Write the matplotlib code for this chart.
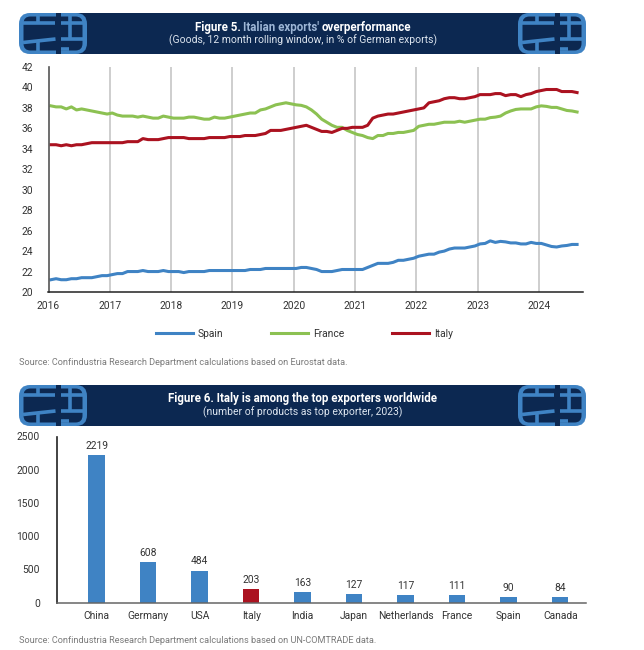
import numpy as np
import matplotlib
matplotlib.use("Agg")
import matplotlib.pyplot as plt
from matplotlib.patches import FancyBboxPatch, Rectangle

W, H = 644, 650
NAVY = '#0c2851'
BLUE = '#3f83c4'
GREEN = '#8cc152'
RED = '#ab1220'
GRID = '#c6c6c6'
LABEL = '#333333'

# Figure 5, monthly values from Jan 2016 to Aug 2024
spain = [21.2, 21.3, 21.2, 21.2, 21.3, 21.3, 21.4, 21.4, 21.4, 21.5, 21.6, 21.6,
         21.7, 21.8, 21.8, 22.0, 22.0, 22.0, 22.1, 22.0, 22.0, 22.0, 22.1, 22.0,
         22.0, 22.0, 21.9, 22.0, 22.0, 22.0, 22.0, 22.1, 22.1, 22.1, 22.1, 22.1,
         22.1, 22.1, 22.1, 22.2, 22.2, 22.2, 22.3, 22.3, 22.3, 22.3, 22.3, 22.3,
         22.3, 22.4, 22.4, 22.3, 22.2, 22.0, 22.0, 22.0, 22.1, 22.2, 22.2, 22.2,
         22.2, 22.2, 22.4, 22.6, 22.8, 22.8, 22.8, 22.9, 23.1, 23.1, 23.2, 23.3,
         23.5, 23.6, 23.7, 23.7, 23.9, 24.0, 24.2, 24.3, 24.3, 24.3, 24.4, 24.5,
         24.7, 24.75, 25.0, 24.85, 24.95, 24.9, 24.8, 24.8, 24.7, 24.7, 24.85, 24.75,
         24.75, 24.6, 24.45, 24.4, 24.5, 24.55, 24.65, 24.65]
france = [38.2, 38.1, 38.1, 37.9, 38.1, 37.8, 37.9, 37.8, 37.7, 37.6, 37.5, 37.4,
          37.5, 37.3, 37.2, 37.2, 37.2, 37.1, 37.2, 37.1, 37.0, 37.0, 37.2, 37.1,
          37.0, 37.0, 37.0, 37.1, 37.1, 37.0, 36.9, 36.9, 37.1, 37.0, 37.0, 37.1,
          37.2, 37.3, 37.4, 37.5, 37.5, 37.8, 37.9, 38.1, 38.3, 38.4, 38.5, 38.4,
          38.3, 38.25, 38.1, 37.8, 37.4, 36.9, 36.6, 36.3, 36.1, 36.1, 35.8, 35.6,
          35.4, 35.3, 35.1, 35.0, 35.3, 35.3, 35.5, 35.5, 35.6, 35.6, 35.7, 35.8,
          36.2, 36.3, 36.4, 36.4, 36.5, 36.6, 36.6, 36.6, 36.7, 36.6, 36.7, 36.8,
          36.9, 36.9, 37.05, 37.1, 37.2, 37.5, 37.7, 37.85, 37.9, 37.9, 37.9, 38.1,
          38.2, 38.15, 38.05, 38.05, 37.9, 37.75, 37.7, 37.6]
italy = [34.4, 34.4, 34.3, 34.4, 34.3, 34.4, 34.4, 34.5, 34.6, 34.6, 34.6, 34.6,
         34.6, 34.6, 34.6, 34.7, 34.7, 34.7, 35.0, 34.9, 34.9, 34.9, 35.0, 35.1,
         35.1, 35.1, 35.1, 35.0, 35.0, 35.0, 35.0, 35.1, 35.1, 35.1, 35.1, 35.2,
         35.2, 35.2, 35.3, 35.3, 35.3, 35.4, 35.5, 35.8, 35.8, 35.8, 35.9, 36.0,
         36.1, 36.2, 36.3, 36.1, 35.9, 35.7, 35.7, 35.6, 35.8, 36.0, 36.0, 36.1,
         36.1, 36.1, 36.3, 37.0, 37.2, 37.3, 37.4, 37.4, 37.5, 37.6, 37.7, 37.8,
         37.9, 38.0, 38.5, 38.6, 38.7, 38.9, 39.0, 39.0, 38.9, 38.9, 39.0, 39.1,
         39.3, 39.3, 39.3, 39.4, 39.4, 39.2, 39.3, 39.3, 39.1, 39.3, 39.4, 39.6,
         39.7, 39.8, 39.8, 39.8, 39.6, 39.6, 39.6, 39.5]
years = list(range(2016, 2025))
yticks5 = list(range(20, 44, 2))

# Figure 6
countries = ['China', 'Germany', 'USA', 'Italy', 'India', 'Japan', 'Netherlands', 'France', 'Spain', 'Canada']
products = [2219, 608, 484, 203, 163, 127, 117, 111, 90, 84]
yticks6 = [0, 500, 1000, 1500, 2000, 2500]

plt.rcParams['font.family'] = ['Roboto', 'DejaVu Sans']


def px_axes(fig, left, top, right, bottom):
    return fig.add_axes([left / W, 1 - bottom / H, (right - left) / W, (bottom - top) / H])


def draw_logo(ov, x0, y0):
    # little chip shaped logo at the banner ends
    ov.add_patch(FancyBboxPatch((x0 + 9, y0 + 9), 50, 23, boxstyle='round,pad=9,rounding_size=11',
                                fc=BLUE, ec='none'))
    ov.add_patch(FancyBboxPatch((x0 + 11, y0 + 10), 46, 21, boxstyle='round,pad=6.5,rounding_size=7',
                                fc=NAVY, ec='none'))
    ov.add_patch(Rectangle((x0 + 37, y0), 5, 41, fc=NAVY, ec='none'))
    segs = [((4, 9.5), (36.5, 9.5)), ((19, 1), (19, 9.5)),
            ((4, 29.5), (36.5, 26)), ((19, 28), (19, 40)),
            ((42, 9.5), (64, 9.5)), ((42, 26), (64, 26)), ((51, 1), (51, 26)),
            ((42, 36), (50, 36))]
    for a, b in segs:
        ov.plot([x0 + a[0], x0 + b[0]], [y0 + a[1], y0 + b[1]], color=BLUE, lw=2.6,
                solid_capstyle='butt')


def banner(ov, top):
    ov.add_patch(Rectangle((45, top), 505, 41, fc=NAVY, ec='none'))
    draw_logo(ov, 19, top)
    draw_logo(ov, 518, top)


def style_axes(ax, xpad, ypad, left_col, bottom_col):
    ax.tick_params(length=0, labelsize=7.4, labelcolor=LABEL)
    ax.tick_params(axis='x', pad=xpad)
    ax.tick_params(axis='y', pad=ypad)
    for s in ['top', 'right']:
        ax.spines[s].set_visible(False)
    ax.spines['left'].set_color(left_col)
    ax.spines['left'].set_linewidth(1.2)
    ax.spines['bottom'].set_color(bottom_col)
    ax.spines['bottom'].set_linewidth(1.1)


fig = plt.figure(figsize=(W / 100, H / 100), dpi=100, facecolor='white')

# overlay in pixel coords for banners and free text
ov = fig.add_axes([0, 0, 1, 1], zorder=5)
ov.set_xlim(0, W)
ov.set_ylim(H, 0)
ov.axis('off')
banner(ov, 13)
banner(ov, 385)

# title of figure 5 has a coloured part, so lay the pieces out one after the other
pieces = [('Figure 5.', 'white'), ("Italian exports'", '#9db6d6'), ('overperformance', 'white')]
gap = 2.6
renderer = fig.canvas.get_renderer()
tkw = dict(fontweight='bold', fontsize=8.3, va='center', ha='left')
widths = []
for s, c in pieces:
    probe = ov.text(0, 27, s, **tkw)
    widths.append(probe.get_window_extent(renderer).width)
    probe.remove()
xpos = 303 - (sum(widths) + 2 * gap) / 2
for (s, c), w in zip(pieces, widths):
    ov.text(xpos, 27, s, color=c, **tkw)
    xpos += w + gap

ov.text(303, 40, '(Goods, 12 month rolling window, in % of German exports)', color='#dde5ef',
        fontsize=7.5, ha='center', va='center')
ov.text(302.5, 398.5, 'Figure 6. Italy is among the top exporters worldwide', color='white',
        fontweight='bold', fontsize=8.3, ha='center', va='center')
ov.text(302.5, 412, '(number of products as top exporter, 2023)', color='#dde5ef',
        fontsize=7.5, ha='center', va='center')
ov.text(19, 362.5, 'Source: Confindustria Research Department calculations based on Eurostat data.',
        color='#7a7a7a', fontsize=6.6, va='center')
ov.text(19, 640.5, 'Source: Confindustria Research Department calculations based on UN-COMTRADE data.',
        color='#7a7a7a', fontsize=6.6, va='center')

# Figure 5
ax = px_axes(fig, 48.5, 67, 583, 292)
t = 2016.04 + np.arange(len(spain)) / 12.0
ax.plot(t, spain, color=BLUE, lw=2.2, label='Spain')
ax.plot(t, france, color=GREEN, lw=2.2, label='France')
ax.plot(t, italy, color=RED, lw=2.2, label='Italy')
ax.set_xlim(2016, 2024.72)
ax.set_ylim(20, 42)
ax.set_xticks(years)
ax.set_yticks(yticks5)
ax.grid(axis='x', color=GRID, lw=1.2)
ax.set_axisbelow(True)
style_axes(ax, 6.5, 11, '#555555', '#222222')
leg = ax.legend(loc='center', bbox_to_anchor=(0.479, -0.187), ncol=3, frameon=False,
                handlelength=3.6, handletextpad=0.5, columnspacing=4.65, fontsize=7.4)
for txt in leg.get_texts():
    txt.set_color(LABEL)

# Figure 6
ax2 = px_axes(fig, 56.5, 436.5, 586, 602.7)
x = np.arange(len(countries))
colors = [RED if c == 'Italy' else BLUE for c in countries]
bars = ax2.bar(x, products, width=0.32, color=colors)
ax2.bar_label(bars, labels=[str(v) for v in products], padding=3, fontsize=7.4, color=LABEL)
ax2.set_xlim(-0.78, 9.5)
ax2.set_ylim(0, 2500)
ax2.set_xticks(x)
ax2.set_xticklabels(countries)
ax2.set_yticks(yticks6)
style_axes(ax2, 6, 12, '#222222', '#666666')

fig.savefig('out.png', dpi=100)
